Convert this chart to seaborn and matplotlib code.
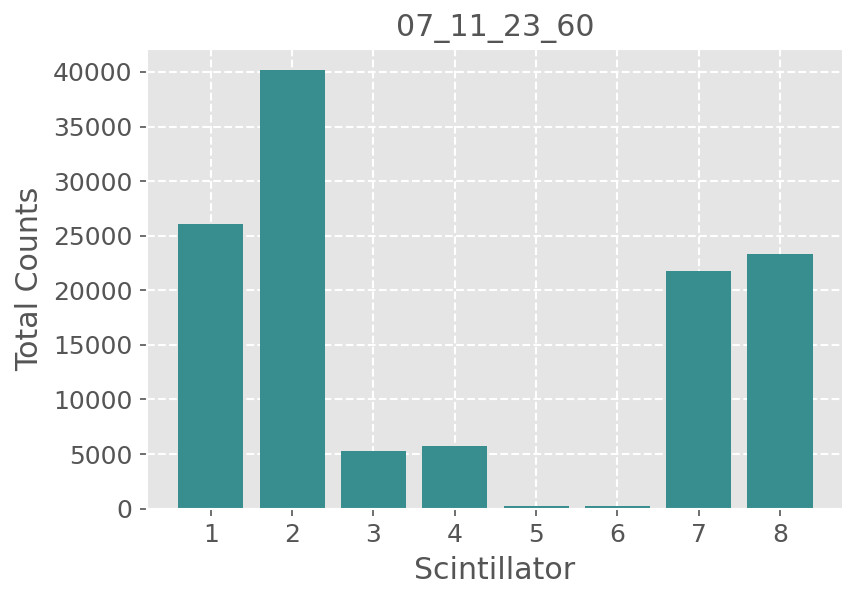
import numpy as np
import pandas as pd
import seaborn as sns
import matplotlib.pyplot as plt

# scintillator number and total counts per scintillator
scintillators = [1, 2, 3, 4, 5, 6, 7, 8]
total_counts = [26100, 40200, 5300, 5750, 270, 270, 21750, 23300]
run_name = "07_11_23_60"

df = pd.DataFrame({"Scintillator": scintillators, "Total Counts": total_counts})

plt.style.use("ggplot")
plt.rcParams["font.size"] = 12
plt.rcParams["grid.linestyle"] = "--"
plt.rcParams["grid.color"] = "white"
plt.rcParams["grid.linewidth"] = 1.0

fig = plt.figure(figsize=(5.72, 4.007), dpi=150)
ax = fig.add_axes([0.1713, 0.1536, 0.8108, 0.765])

sns.barplot(
    data=df,
    x="Scintillator",
    y="Total Counts",
    native_scale=True,
    color="#388E8E",
    saturation=1,
    width=0.8,
    ax=ax,
)
ax.set_xticks(scintillators)
ax.set_xlim(0.216, 8.77)
ax.set_ylim(0, 42110)
ax.set_title(run_name, fontsize=14.4, color="#555555")
ax.set_xlabel("Scintillator", fontsize=14.4)
ax.set_ylabel("Total Counts", fontsize=14.4)

fig.savefig("out.png", dpi=150)
